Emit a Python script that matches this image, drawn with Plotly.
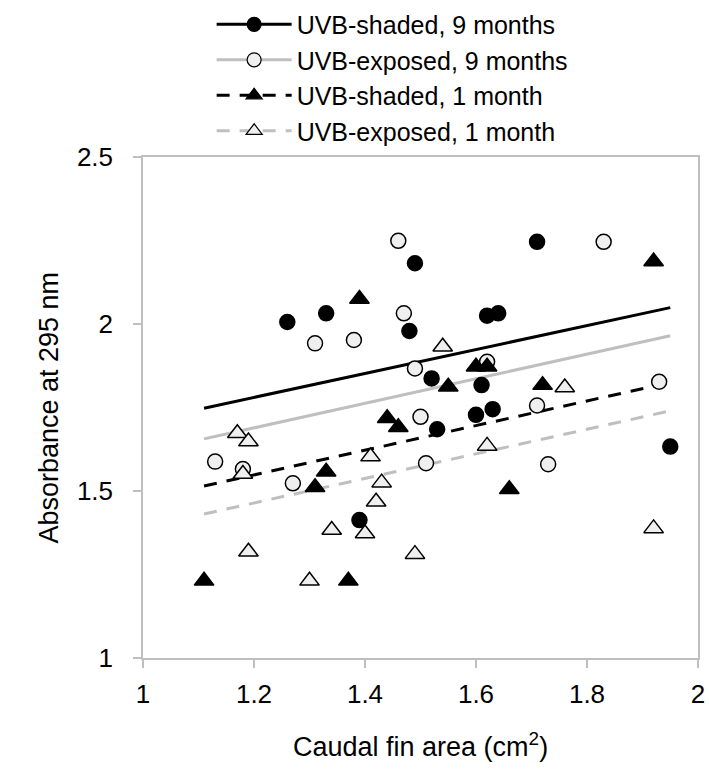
import plotly.graph_objects as go

# ---- data ----
shaded9_x = [1.26, 1.33, 1.39, 1.48, 1.49, 1.52, 1.53, 1.60, 1.61, 1.62, 1.63, 1.64, 1.71, 1.95]
shaded9_y = [2.006, 2.032, 1.413, 1.979, 2.182, 1.837, 1.685, 1.728, 1.817, 2.025, 1.745, 2.032, 2.246, 1.633]

exposed9_x = [1.13, 1.18, 1.27, 1.31, 1.38, 1.46, 1.47, 1.49, 1.50, 1.51, 1.62, 1.71, 1.73, 1.83, 1.93]
exposed9_y = [1.588, 1.566, 1.523, 1.942, 1.952, 2.249, 2.032, 1.867, 1.722, 1.583, 1.887, 1.756, 1.580, 2.246, 1.827]

shaded1_x = [1.11, 1.31, 1.33, 1.37, 1.39, 1.44, 1.46, 1.55, 1.60, 1.62, 1.66, 1.72, 1.92]
shaded1_y = [1.231, 1.511, 1.558, 1.231, 2.075, 1.718, 1.691, 1.812, 1.872, 1.872, 1.505, 1.817, 2.187]

exposed1_x = [1.17, 1.18, 1.19, 1.19, 1.30, 1.34, 1.40, 1.41, 1.42, 1.43, 1.49, 1.54, 1.62, 1.76, 1.92]
exposed1_y = [1.673, 1.551, 1.648, 1.318, 1.231, 1.383, 1.373, 1.603, 1.468, 1.525, 1.311, 1.932, 1.635, 1.810, 1.388]

# fitted trend lines (end points)
fit_x = [1.11, 1.95]
fit_shaded9_y = [1.748, 2.049]
fit_exposed9_y = [1.656, 1.965]
fit_shaded1_y = [1.515, 1.825]
fit_exposed1_y = [1.431, 1.740]

names = ["UVB-shaded, 9 months", "UVB-exposed, 9 months",
         "UVB-shaded, 1 month", "UVB-exposed, 1 month"]
x_ticks = [1, 1.2, 1.4, 1.6, 1.8, 2]
x_ticklabels = ["1", "1.2", "1.4", "1.6", "1.8", "2"]
y_ticks = [1, 1.5, 2, 2.5]
y_ticklabels = ["1", "1.5", "2", "2.5"]
x_title = "Caudal fin area (cm<sup>2</sup>)"
y_title = "Absorbance at 295 nm"

FONT = "Arial, Liberation Sans, sans-serif"
GRAY_LINE = "#bfbfbf"
OPEN_FILL = "#efefef"
DASH = "13px,10px"

series = [
    dict(x=shaded9_x, y=shaded9_y, fy=fit_shaded9_y, name=names[0],
         symbol="circle", fill="black", lcolor="black", dash="solid", size=15),
    dict(x=exposed9_x, y=exposed9_y, fy=fit_exposed9_y, name=names[1],
         symbol="circle", fill=OPEN_FILL, lcolor=GRAY_LINE, dash="solid", size=15),
    dict(x=shaded1_x, y=shaded1_y, fy=fit_shaded1_y, name=names[2],
         symbol="triangle-up", fill="black", lcolor="black", dash=DASH, size=17),
    dict(x=exposed1_x, y=exposed1_y, fy=fit_exposed1_y, name=names[3],
         symbol="triangle-up", fill=OPEN_FILL, lcolor=GRAY_LINE, dash=DASH, size=17),
]

fig = go.Figure()

# trend lines first (under markers)
for s in series:
    fig.add_trace(go.Scatter(
        x=fit_x, y=s["fy"], mode="lines", showlegend=False,
        line=dict(color=s["lcolor"], width=3, dash=s["dash"]),
        hoverinfo="skip"))

# markers
for s in series:
    fig.add_trace(go.Scatter(
        x=s["x"], y=s["y"], mode="markers", showlegend=False, name=s["name"],
        marker=dict(symbol=s["symbol"], size=s["size"], color=s["fill"],
                    line=dict(color="black", width=1.5))))

# legend entries (line + marker)
for s in series:
    fig.add_trace(go.Scatter(
        x=[None], y=[None], mode="lines+markers", name=s["name"],
        line=dict(color=s["lcolor"], width=3, dash=s["dash"]),
        marker=dict(symbol=s["symbol"], size=14, color=s["fill"],
                    line=dict(color="black", width=1.2))))

axis_common = dict(
    showline=True, linecolor=GRAY_LINE, linewidth=1.5, mirror=True,
    ticks="outside", tickcolor=GRAY_LINE, ticklen=8, tickwidth=1.5,
    showgrid=False, zeroline=False, automargin=False,
    tickfont=dict(family=FONT, size=26, color="black"),
)

fig.update_layout(
    width=709, height=773,
    margin=dict(l=143, r=11, t=157, b=115, autoexpand=False),
    paper_bgcolor="white", plot_bgcolor="white",
    font=dict(family=FONT, color="black"),
    xaxis=dict(range=[1, 2], tickmode="array",
               tickvals=x_ticks, ticktext=x_ticklabels,
               ticklabelstandoff=4, **axis_common),
    yaxis=dict(range=[1, 2.5], tickmode="array",
               tickvals=y_ticks, ticktext=y_ticklabels,
               ticklabelstandoff=15, **axis_common),
    legend=dict(x=0.2985, y=0.998, xref="container", yref="container",
                xanchor="left", yanchor="top",
                font=dict(family=FONT, size=25, color="black"),
                itemwidth=75, tracegroupgap=0,
                bgcolor="rgba(0,0,0,0)"),
    showlegend=True,
    annotations=[
        dict(text=x_title, xref="paper", yref="paper", x=0.5, y=-0.174,
             xanchor="center", yanchor="middle", showarrow=False,
             font=dict(family=FONT, size=27, color="black")),
        dict(text=y_title, xref="paper", yref="paper", x=-0.171, y=0.5,
             xanchor="center", yanchor="middle", showarrow=False, textangle=-90,
             font=dict(family=FONT, size=27, color="black")),
    ],
)

fig.write_html("out.html",
               config={"displayModeBar": False},
               post_script="document.body.style.margin='0';document.body.style.padding='0';")
